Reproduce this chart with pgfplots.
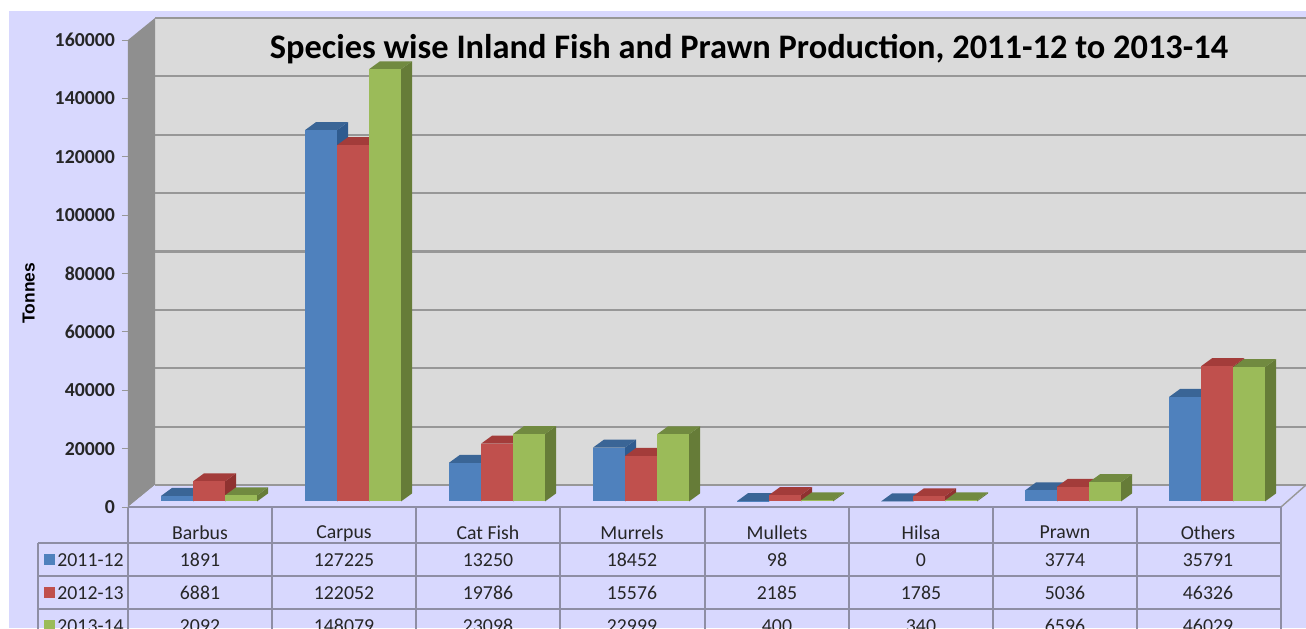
\documentclass[border=0pt]{standalone}
\usepackage{fontspec}
\setmainfont{Carlito}
\newfontfamily\labelfont{Liberation Sans}
\usepackage{pgfplots}
\usepackage{pgfplotstable}
\pgfplotsset{compat=1.18}

\definecolor{bgLav}{HTML}{D8D8FE}
\definecolor{wallBack}{HTML}{DADADA}
\definecolor{wallLeft}{HTML}{8F8F8F}
\definecolor{gridGrey}{HTML}{979797}
\definecolor{tableLine}{HTML}{8E8EA4}
\definecolor{blueF}{HTML}{4F81BD}
\definecolor{blueS}{HTML}{2F5B8F}
\definecolor{blueT}{HTML}{3A6596}
\definecolor{redF}{HTML}{C0504D}
\definecolor{redS}{HTML}{8F3230}
\definecolor{redT}{HTML}{A33C3A}
\definecolor{greenF}{HTML}{9BBB59}
\definecolor{greenS}{HTML}{667C38}
\definecolor{greenT}{HTML}{718A40}

% x in picture pixels, y in tonnes (342.6 t = 1 px)
\pgfplotstableread{
x    cat          a      b      c
200  Barbus       1891   6881   2092
344  Carpus       127225 122052 148079
488  {Cat Fish}   13250  19786  23098
632  Murrels      18452  15576  22999
777  Mullets      98     2185   400
921  Hilsa        0      1785   340
1065 Prawn        3774   5036   6596
1208 Others       35791  46326  46029
}\species

% left edge, value, front, side, top
\newcommand{\barbox}[5]{%
  \edef\xa{#1}%
  \edef\xb{\the\numexpr #1+32\relax}%
  \edef\xc{\the\numexpr #1+43\relax}%
  \edef\xd{\the\numexpr #1+11\relax}%
  \edef\ytop{\the\numexpr 1900+#2\relax}%
  \edef\ytopb{\the\numexpr 1900+2741+#2\relax}%
  \edef\doit{%
    \noexpand\addplot[fill=#4,draw=none] coordinates {(\xb,1900)(\xc,4641)(\xc,\ytopb)(\xb,\ytop)} --cycle;
    \noexpand\addplot[fill=#5,draw=none] coordinates {(\xa,\ytop)(\xb,\ytop)(\xc,\ytopb)(\xd,\ytopb)} --cycle;
    \noexpand\addplot[fill=#3,draw=none] coordinates {(\xa,1900)(\xb,1900)(\xb,\ytop)(\xa,\ytop)} --cycle;
  }\doit}

\begin{document}
\begin{tikzpicture}
\clip[use as bounding box] (-64pt,-60.5pt) rectangle (589pt,253.5pt);
\begin{axis}[
  scale only axis, width=576.5pt, height=233.5pt,
  xmin=128, xmax=1281, ymin=0, ymax=160000,
  clip=false, axis on top,
  axis lines=left, axis line style={draw=none},
  /pgf/number format/.cd, fixed, precision=0, 1000 sep={}, assume math mode=true, /pgfplots/.cd,
  scaled ticks=false,
  ytick={0,20000,40000,60000,80000,100000,120000,140000,160000},
  xtick={200,344,488,632,777,921,1065,1208},
  xticklabels from table={\species}{cat},
  tick align=outside, major tick length=3pt,
  ytick style={gridGrey, line width=0.5pt},
  xtick style={draw=none},
  yticklabel style={font=\fontsize{9.9}{11}\selectfont\bfseries, text=black!85},
  xticklabel style={font=\fontsize{9.9}{11}\selectfont, text=black!85, yshift=-3pt},
  title={Species wise Inland Fish and Prawn Production, 2011-12 to 2013-14},
  title style={at={(0.5386,0.955)}, anchor=center, font=\fontsize{17.2}{19}\selectfont\bfseries, text=black},
  ylabel={Tonnes},
  ylabel style={at={(axis description cs:-0.086,0.458)}, anchor=center, font=\labelfont\fontsize{8.7}{10}\selectfont\bfseries},
]
  % page and background
  \addplot[fill=white,draw=none] coordinates {(0,-41454)(1306,-41454)(1306,173698)(0,173698)} --cycle;
  \addplot[fill=bgLav,draw=none] coordinates {(9,-41454)(1306,-41454)(1306,169930)(9,169930)} --cycle;

  % walls and floor
  \addplot[fill=wallBack,draw=none] coordinates {(155,7537)(1306,7537)(1306,167537)(155,167537)} --cycle;
  \addplot[fill=wallLeft,draw=none] coordinates {(128,0)(155,7537)(155,167537)(128,160000)} --cycle;
  \addplot[fill=bgLav,draw=none] coordinates {(128,0)(155,7537)(1306,7537)(1281,0)} --cycle;

  % gridlines on the back wall
  \pgfplotsforeachungrouped \v in {27537,47537,67537,87537,107537,127537,147537,167537}{
    \edef\doit{\noexpand\addplot[gridGrey,line width=1.1pt] coordinates {(155,\v)(1306,\v)};}\doit
  }
  \addplot[gridGrey,line width=1.1pt] coordinates {(155,7537)(1306,7537)};
  \addplot[gridGrey,line width=0.7pt] coordinates {(1281,0)(1306,7537)};

  % bars
  \pgfplotsforeachungrouped \i in {0,...,7}{
    \pgfplotstablegetelem{\i}{a}\of\species \let\va\pgfplotsretval
    \pgfplotstablegetelem{\i}{b}\of\species \let\vb\pgfplotsretval
    \pgfplotstablegetelem{\i}{c}\of\species \let\vc\pgfplotsretval
    \edef\xl{\the\numexpr (1605+\i*1441)/10\relax}
    \barbox{\xl}{\va}{blueF}{blueS}{blueT}
    \barbox{\the\numexpr\xl+32\relax}{\vb}{redF}{redS}{redT}
    \barbox{\the\numexpr\xl+64\relax}{\vc}{greenF}{greenS}{greenT}
  }

  % data table grid
  \addplot[tableLine,line width=0.6pt] coordinates {(128,0)(1281,0)};
  \addplot[tableLine,line width=0.6pt] coordinates {(38,-12334)(1281,-12334)};
  \addplot[tableLine,line width=0.6pt] coordinates {(38,-23639)(1281,-23639)};
  \addplot[tableLine,line width=0.6pt] coordinates {(38,-34945)(1281,-34945)};
  \addplot[tableLine,line width=0.6pt] coordinates {(38,-12334)(38,-46251)};
  \pgfplotsforeachungrouped \x in {128,272,416,560,705,849,993,1137,1281}{
    \edef\doit{\noexpand\addplot[tableLine,line width=0.6pt] coordinates {(\x,0)(\x,-46251)};}\doit
  }

  % data table values
  \pgfplotsset{tablecell/.style={draw=none, mark=none, point meta=explicit symbolic, nodes near coords={\pgfplotspointmeta},
    nodes near coords style={anchor=center, inner sep=0pt, font=\fontsize{9.9}{11}\selectfont, text=black!85}}}
  \addplot[tablecell] table[x=x, y expr=-18158, meta=a] {\species};
  \addplot[tablecell] table[x=x, y expr=-29464, meta=b] {\species};
  \addplot[tablecell] table[x=x, y expr=-40769, meta=c] {\species};

  % row keys
  \addplot[only marks, mark=square*, mark size=2.5pt, blueF] coordinates {(49,-17815)};
  \addplot[only marks, mark=square*, mark size=2.5pt, redF] coordinates {(49,-29121)};
  \addplot[only marks, mark=square*, mark size=2.5pt, greenF] coordinates {(49,-40427)};
  \node[anchor=west, inner sep=0pt, font=\fontsize{9.9}{11}\selectfont, text=black!85] at (axis cs:57,-18158) {2011-12};
  \node[anchor=west, inner sep=0pt, font=\fontsize{9.9}{11}\selectfont, text=black!85] at (axis cs:57,-29464) {2012-13};
  \node[anchor=west, inner sep=0pt, font=\fontsize{9.9}{11}\selectfont, text=black!85] at (axis cs:57,-40769) {2013-14};
\end{axis}
\end{tikzpicture}
\end{document}
